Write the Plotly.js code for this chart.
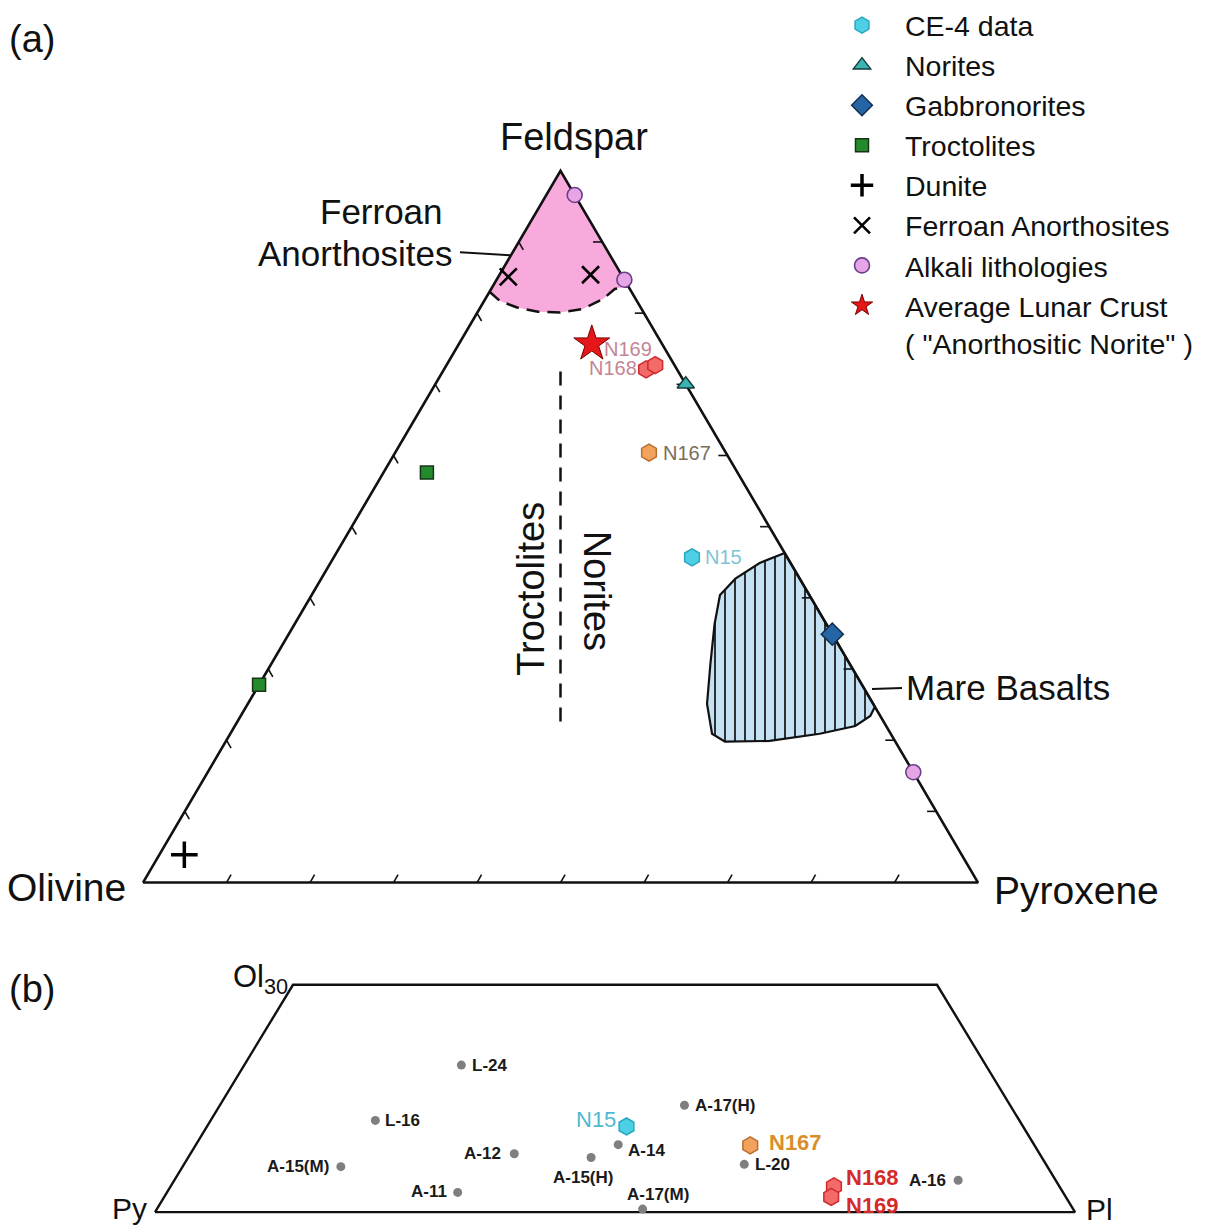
<!DOCTYPE html>
<html><head><meta charset="utf-8">
<script src="https://cdn.plot.ly/plotly-3.0.1.min.js"></script>
<style>html,body{margin:0;padding:0;background:#fff}</style>
</head><body><div id="chart" style="width:1227px;height:1227px"></div>
<script>
// ===== (a) Feldspar–Olivine–Pyroxene ternary: values in % (Olivine = 100 - Feldspar - Pyroxene) =====
const ce4Names = ['N15', 'N167', 'N168', 'N169'];
const ce4Feldspar = [45.7, 60.4, 72.1, 72.7];
const ce4Pyroxene = [42.9, 30.4, 24.2, 25.0];

const noriteFeldspar = [70.0];
const noritePyroxene = [30.0];
const gabbroFeldspar = [34.9];
const gabbroPyroxene = [65.1];
const troctFeldspar = [57.6, 27.8];
const troctPyroxene = [5.2, 0.0];
const duniteFeldspar = [3.9];
const dunitePyroxene = [3.0];
const fanFeldspar = [85.1, 85.4];
const fanPyroxene = [1.2, 10.9];
const alkaliFeldspar = [96.6, 84.7, 15.5];
const alkaliPyroxene = [3.4, 15.3, 84.5];
const crustFeldspar = [75.7];
const crustPyroxene = [15.9];

// fields (outline vertices)
const fanFieldFeldspar = [100, 83.0, 81.7, 80.8, 80.2, 80.1, 80.6, 82.0, 83.4, 83.8, 100];
const fanFieldPyroxene = [0, 0, 1.9, 4.4, 7.2, 9.9, 12.4, 14.1, 14.8, 16.2, 0];
const mareFeldspar = [46.3, 44.9, 42.7, 40.4, 36.3, 30.7, 25.1, 20.9, 19.8, 19.9, 20.9, 22.0, 23.4, 24.7, 46.3];
const marePyroxene = [53.7, 51.4, 49.6, 48.9, 50.3, 52.6, 55.0, 57.7, 59.8, 65.1, 70.6, 74.3, 75.4, 75.3, 53.7];
// troctolite / norite boundary (Olivine = Pyroxene)
const boundaryFeldspar = [71.8, 21.3];
const boundaryPyroxene = [14.1, 39.35];
const tickValues = [10, 20, 30, 40, 50, 60, 70, 80, 90];

// ===== (b) Py–Pl–Ol30 section: Pl and Ol in % (Py = rest) =====
const grayNames = ['L-24', 'L-16', 'A-15(M)', 'A-12', 'A-11', 'A-14', 'A-15(H)', 'A-17(M)', 'A-17(H)', 'L-20', 'A-16'];
const grayPl = [23.6, 17.9, 17.2, 35.2, 31.6, 45.9, 43.8, 52.8, 50.5, 60.9, 85.2];
const grayOl = [19.4, 12.1, 6.0, 7.7, 2.6, 8.9, 7.2, 0.4, 14.1, 6.3, 4.2];
const ce4Pl = [45.6, 60.3, 72.1, 72.5];
const ce4Ol = [11.3, 8.8, 3.4, 2.0];
const sectionPl = [0, 100, 70, 0, 0];
const sectionOl = [0, 0, 30, 30, 0];

// ===== helpers =====
const S3 = Math.sqrt(3) / 2;
function toA(F, P) { return { x: F.map((f, i) => P[i] / 100 + f / 200), y: F.map(f => f / 100 * S3) }; }
function toB(Pl, Ol) { return { x: Pl.map((p, i) => p / 100 + Ol[i] / 200), y: Ol.map(o => o / 100 * S3) }; }
function lin(p0, v0, p1, v1, p) { return v0 + (p - p0) * (v1 - v0) / (p1 - p0); }

const W = 1227;
const FONT = 'Liberation Sans, Arial, sans-serif';

// ticks (inward, ternary style)
const tk = { x: [], y: [] };
const TL = 0.011;
tickValues.forEach(t => {
  const v = t / 100;
  tk.x.push(v, v + TL * 0.5, null); tk.y.push(0, TL * S3, null);
  tk.x.push(v / 2, v / 2 + TL * 0.5, null); tk.y.push(v * S3, v * S3 - TL * S3, null);
  tk.x.push(1 - v / 2, 1 - v / 2 - TL, null); tk.y.push(v * S3, v * S3, null);
});

const tri = toA([0, 0, 100, 0], [0, 100, 0, 0]);
const fanField = toA(fanFieldFeldspar, fanFieldPyroxene);
const fanArc = toA(fanFieldFeldspar.slice(1, 10), fanFieldPyroxene.slice(1, 10));
const mare = toA(mareFeldspar, marePyroxene);
const bnd = toA(boundaryFeldspar, boundaryPyroxene);
const ce4A = toA(ce4Feldspar, ce4Pyroxene);
const sec = toB(sectionPl, sectionOl);
const grayB = toB(grayPl, grayOl);
const ce4B = toB(ce4Pl, ce4Ol);

const ce4Fill = ['#4dcfe6', '#f2a25c', '#f26a6a', '#f26a6a'];
const ce4Line = ['#2aa7c0', '#b86e30', '#d02a2a', '#d02a2a'];

const noLeg = { showlegend: false, hoverinfo: 'skip' };
const data = [
  Object.assign({ x: fanField.x, y: fanField.y, mode: 'lines', fill: 'toself', fillcolor: '#f8aadc', line: { width: 0 } }, noLeg),
  Object.assign({ x: fanArc.x, y: fanArc.y, mode: 'lines', line: { color: '#111', width: 2.5, dash: '13px,8px' } }, noLeg),
  Object.assign({ x: mare.x, y: mare.y, mode: 'lines', fill: 'toself', fillcolor: '#c4e2f4',
    fillpattern: { shape: '|', bgcolor: '#c4e2f4', fgcolor: '#111', size: 10, solidity: 0.17 },
    line: { color: '#111', width: 2.2 } }, noLeg),
  Object.assign({ x: bnd.x, y: bnd.y, mode: 'lines', line: { color: '#111', width: 2.5, dash: '14px,10px' } }, noLeg),
  Object.assign({ x: tri.x, y: tri.y, mode: 'lines', line: { color: '#111', width: 2.6 } }, noLeg),
  Object.assign({ x: tk.x, y: tk.y, mode: 'lines', line: { color: '#111', width: 1.6 } }, noLeg),
  Object.assign({ x: sec.x, y: sec.y, xaxis: 'x2', yaxis: 'y2', mode: 'lines', line: { color: '#111', width: 2.4 } }, noLeg),

  // legend series (panel a)
  { name: 'CE-4 data', x: ce4A.x, y: ce4A.y, mode: 'markers', cliponaxis: false,
    marker: { symbol: 'hexagon', size: 17, color: ce4Fill, line: { color: ce4Line, width: 1.5 } } },
  Object.assign({ name: 'Norites', mode: 'markers', cliponaxis: false,
    marker: { symbol: 'triangle-up', size: 15, color: '#38b4b2', line: { color: '#163c3c', width: 1.5 } } }, toA(noriteFeldspar, noritePyroxene)),
  Object.assign({ name: 'Gabbronorites', mode: 'markers', cliponaxis: false,
    marker: { symbol: 'diamond', size: 17, color: '#2565a5', line: { color: '#13304e', width: 1.5 } } }, toA(gabbroFeldspar, gabbroPyroxene)),
  Object.assign({ name: 'Troctolites', mode: 'markers', cliponaxis: false,
    marker: { symbol: 'square', size: 13, color: '#238b2b', line: { color: '#183418', width: 1.5 } } }, toA(troctFeldspar, troctPyroxene)),
  Object.assign({ name: 'Dunite', mode: 'markers', cliponaxis: false,
    marker: { symbol: 'cross-thin', size: 19, color: '#000', line: { color: '#000', width: 3.5 } } }, toA(duniteFeldspar, dunitePyroxene)),
  Object.assign({ name: 'Ferroan Anorthosites', mode: 'markers', cliponaxis: false,
    marker: { symbol: 'x-thin', size: 17, color: '#000', line: { color: '#000', width: 2.6 } } }, toA(fanFeldspar, fanPyroxene)),
  Object.assign({ name: 'Alkali lithologies', mode: 'markers', cliponaxis: false,
    marker: { symbol: 'circle', size: 15, color: '#e6a6e6', line: { color: '#6b3e8c', width: 1.6 } } }, toA(alkaliFeldspar, alkaliPyroxene)),
  Object.assign({ name: 'Average Lunar Crust<br>( "Anorthositic Norite" )', mode: 'markers', cliponaxis: false,
    marker: { symbol: 'star', size: 27, color: '#e41818', line: { color: '#7a0000', width: 1 } } }, toA(crustFeldspar, crustPyroxene)),

  // panel b
  { x: grayB.x, y: grayB.y, xaxis: 'x2', yaxis: 'y2', mode: 'markers', cliponaxis: false, showlegend: false,
    marker: { size: 9, color: '#7f7f7f' } },
  { x: ce4B.x, y: ce4B.y, xaxis: 'x2', yaxis: 'y2', mode: 'markers', cliponaxis: false, showlegend: false,
    marker: { symbol: 'hexagon', size: 17, color: ce4Fill, line: { color: ce4Line, width: 1.5 } } }
];

// ---- annotations ----
const ann = [];
function txt(o) { ann.push(Object.assign({ showarrow: false, xanchor: 'center', yanchor: 'middle', font: { family: FONT, size: 34, color: '#111' } }, o)); }
function paper(xp, yp, o) { txt(Object.assign({ xref: 'paper', yref: 'paper', x: xp / W, y: 1 - yp / W }, o)); }

paper(7, 30, { text: '(a)', xanchor: 'left', font: { family: FONT, size: 38, color: '#111' } });
paper(7, 987, { text: '(b)', xanchor: 'left', font: { family: FONT, size: 38, color: '#111' } });

// corner titles (a)
txt({ xref: 'x', yref: 'y', x: tri.x[2], y: tri.y[2], text: 'Feldspar', xshift: 13, yshift: 34, font: { family: FONT, size: 38, color: '#111' } });
txt({ xref: 'x', yref: 'y', x: tri.x[0], y: tri.y[0], text: 'Olivine', xanchor: 'right', xshift: -15, yshift: -5, font: { family: FONT, size: 39, color: '#111' } });
txt({ xref: 'x', yref: 'y', x: tri.x[1], y: tri.y[1], text: 'Pyroxene', xanchor: 'left', xshift: 14, yshift: -8, font: { family: FONT, size: 39, color: '#111' } });

// field labels
paper(381, 204, { text: 'Ferroan', font: { family: FONT, size: 35, color: '#111' } });
paper(355, 246, { text: 'Anorthosites', font: { family: FONT, size: 35, color: '#111' } });
paper(1008, 684, { text: 'Mare Basalts', font: { family: FONT, size: 35, color: '#111' } });
paper(531, 584, { text: 'Troctolites', textangle: -90, font: { family: FONT, size: 38, color: '#111' } });
paper(597, 586, { text: 'Norites', textangle: 90, font: { family: FONT, size: 38, color: '#111' } });

// CE-4 labels (a)
const labA = {
  N15: { xa: 'left', dx: 11, dy: 0, c: '#7fc4d4' },
  N167: { xa: 'left', dx: 12, dy: 0, c: '#7b6d5b' },
  N168: { xa: 'right', dx: -7, dy: 1, c: '#c48593' },
  N169: { xa: 'left', dx: -53, dy: 16, c: '#c48593' }
};
ce4Names.forEach((n, i) => {
  const s = labA[n];
  txt({ xref: 'x', yref: 'y', x: ce4A.x[i], y: ce4A.y[i], text: n, xanchor: s.xa, xshift: s.dx, yshift: s.dy,
    font: { family: FONT, size: 20, color: s.c } });
});

// panel b corner labels
txt({ xref: 'x2', yref: 'y2', x: sec.x[3], y: sec.y[3], text: 'Ol<sub>30</sub>', xanchor: 'right', xshift: -3, yshift: 6, font: { family: FONT, size: 31, color: '#111' } });
txt({ xref: 'x2', yref: 'y2', x: sec.x[0], y: sec.y[0], text: 'Py', xanchor: 'right', xshift: -6, yshift: 4, font: { family: FONT, size: 30, color: '#111' } });
txt({ xref: 'x2', yref: 'y2', x: sec.x[1], y: sec.y[1], text: 'Pl', xanchor: 'left', xshift: 9, yshift: 3, font: { family: FONT, size: 30, color: '#111' } });

// gray labels (b)
const labB = {
  'L-24': ['left', 9, 0], 'L-16': ['left', 8, 0], 'A-15(M)': ['right', -10, 0], 'A-12': ['right', -11, 0],
  'A-11': ['right', -9, 1], 'A-14': ['left', 8, -6], 'A-15(H)': ['center', -8, -20], 'A-17(M)': ['center', 15, 15],
  'A-17(H)': ['left', 9, 0], 'L-20': ['left', 9, 0], 'A-16': ['right', -10, 0]
};
grayNames.forEach((n, i) => {
  const s = labB[n];
  txt({ xref: 'x2', yref: 'y2', x: grayB.x[i], y: grayB.y[i], text: '<b>' + n + '</b>', xanchor: s[0], xshift: s[1], yshift: s[2],
    font: { family: FONT, size: 17, color: '#1a1a1a' } });
});
const labBc = {
  N15: ['right', -9, 7, '#4fb9cf', false], N167: ['left', 17, 3, '#d98e2c', true],
  N168: ['left', 10, 9, '#d42a2a', true], N169: ['left', 13, -9, '#d42a2a', true]
};
ce4Names.forEach((n, i) => {
  const s = labBc[n];
  txt({ xref: 'x2', yref: 'y2', x: ce4B.x[i], y: ce4B.y[i], text: s[4] ? '<b>' + n + '</b>' : n, xanchor: s[0], xshift: s[1], yshift: s[2],
    font: { family: FONT, size: 22, color: s[3] } });
});

// leader lines
const shapes = [
  { type: 'line', xref: 'paper', yref: 'paper', x0: 460 / W, y0: 1 - 245 / W, x1: 510 / W, y1: 1 - 248 / W, line: { color: '#111', width: 2 } },
  { type: 'line', xref: 'paper', yref: 'paper', x0: 872 / W, y0: 1 - 685 / W, x1: 902 / W, y1: 1 - 684 / W, line: { color: '#111', width: 2 } }
];

const hidden = { showgrid: false, zeroline: false, showticklabels: false, ticks: '', showline: false, fixedrange: true };
const layout = {
  width: W, height: W,
  margin: { l: 0, r: 0, t: 0, b: 0 },
  paper_bgcolor: '#fff', plot_bgcolor: '#fff',
  font: { family: FONT, color: '#111' },
  xaxis: Object.assign({ domain: [0, 1], range: [lin(143, 0, 978, 1, 0), lin(143, 0, 978, 1, W)] }, hidden),
  yaxis: Object.assign({ domain: [1 - 957 / W, 1], range: [lin(880, 0, 163, S3, 957), lin(880, 0, 163, S3, 0)] }, hidden),
  xaxis2: Object.assign({ domain: [0, 1], anchor: 'y2', range: [lin(155, 0, 1075, 1, 0), lin(155, 0, 1075, 1, W)] }, hidden),
  yaxis2: Object.assign({ domain: [0, 1 - 960 / W], anchor: 'x2', range: [lin(1212, 0, 983, 0.3 * S3, W), lin(1212, 0, 983, 0.3 * S3, 960)] }, hidden),
  showlegend: true,
  legend: {
    x: 819 / W, y: 1 + 9 / W, xanchor: 'left', yanchor: 'top', itemwidth: 76,
    bgcolor: 'rgba(0,0,0,0)', borderwidth: 0, valign: 'top',
    font: { family: FONT, size: 28.5, color: '#111' }, tracegroupgap: 0, itemclick: false
  },
  annotations: ann,
  shapes: shapes
};

Plotly.newPlot('chart', data, layout, { staticPlot: true, displayModeBar: false });
</script>
</body></html>
